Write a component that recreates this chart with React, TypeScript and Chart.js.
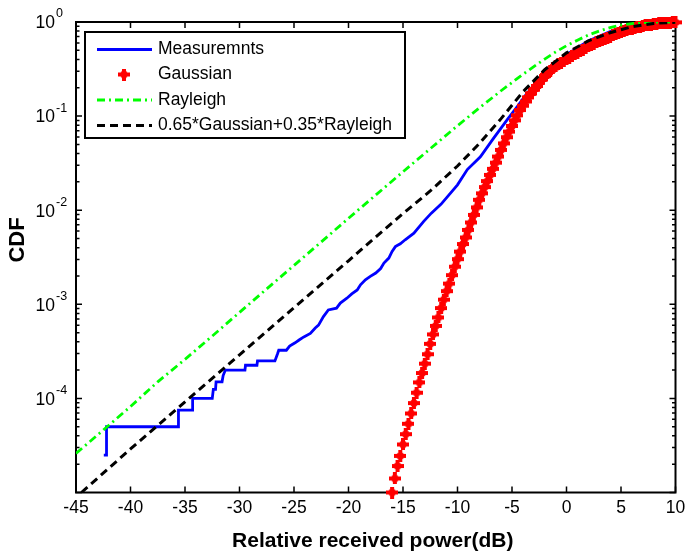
import React, { useEffect, useRef } from 'react';
import { Chart, registerables } from 'chart.js';

Chart.register(...registerables);

// ---------- data ----------
const xTicks = [-45, -40, -35, -30, -25, -20, -15, -10, -5, 0, 5, 10];
const yDecades = [1, 0.1, 0.01, 0.001, 0.0001];
const yExponents = ['0', '-1', '-2', '-3', '-4'];
const legendLabels = ['Measuremnts', 'Gaussian', 'Rayleigh', '0.65*Gaussian+0.35*Rayleigh'];
const xTitle = 'Relative received power(dB)';
const yTitle = 'CDF';

const measX = [-42.45, -42.2, -42.2, -35.6, -35.6, -34.3, -34.3, -32.5, -32.4, -32.2, -32.15, -31.6, -31.5, -31.3, -29.5, -29.45, -28.4, -28.35, -26.75, -26.5, -26.4, -25.7, -25.4, -24.9, -24.5, -24.1, -23.5, -23.05, -22.75, -22.3, -21.85, -21.1, -20.75, -20.15, -19.7, -19.2, -18.9, -18.45, -18.0, -17.5, -17.05, -16.75, -16.3, -16.0, -15.7, -15.25, -14.8, -14.0, -13.1, -12.4, -11.5, -10.0, -9.1, -7.9, -6.7, -5.45, -4.5, -3.6, -2.4, -1.2, 0, 2, 4, 6, 8, 10];
const measY = [2.5e-5, 2.5e-5, 5e-5, 5e-5, 7.5e-5, 7.5e-5, 1e-4, 1e-4, 1.25e-4, 1.25e-4, 1.5e-4, 1.5e-4, 1.75e-4, 2e-4, 2e-4, 2.25e-4, 2.25e-4, 2.5e-4, 2.5e-4, 3.0e-4, 3.25e-4, 3.25e-4, 3.6e-4, 3.9e-4, 4.2e-4, 4.5e-4, 4.9e-4, 5.6e-4, 6.0e-4, 7.4e-4, 8.7e-4, 9.1e-4, 1.03e-3, 1.16e-3, 1.29e-3, 1.42e-3, 1.61e-3, 1.82e-3, 1.98e-3, 2.15e-3, 2.4e-3, 2.74e-3, 3.1e-3, 3.64e-3, 4.1e-3, 4.4e-3, 4.85e-3, 5.7e-3, 7.6e-3, 9.3e-3, 1.16e-2, 1.86e-2, 2.7e-2, 3.7e-2, 5.8e-2, 9.1e-2, 0.127, 0.176, 0.244, 0.337, 0.45, 0.63, 0.79, 0.91, 0.97, 1.0];

const gaussX = [-16, -15.75, -15.5, -15.25, -15, -14.75, -14.5, -14.25, -14, -13.75, -13.5, -13.25, -13, -12.75, -12.5, -12.25, -12, -11.75, -11.5, -11.25, -11, -10.75, -10.5, -10.25, -10, -9.75, -9.5, -9.25, -9, -8.75, -8.5, -8.25, -8, -7.75, -7.5, -7.25, -7, -6.75, -6.5, -6.25, -6, -5.75, -5.5, -5.25, -5, -4.75, -4.5, -4.25, -4, -3.75, -3.5, -3.25, -3, -2.75, -2.5, -2.25, -2, -1.75, -1.5, -1.25, -1, -0.75, -0.5, -0.25, 0, 0.25, 0.5, 0.75, 1, 1.25, 1.5, 1.75, 2, 2.25, 2.5, 2.75, 3, 3.25, 3.5, 3.75, 4, 4.25, 4.5, 4.75, 5, 5.25, 5.5, 5.75, 6, 6.25, 6.5, 6.75, 7, 7.25, 7.5, 7.75, 8, 8.25, 8.5, 8.75, 9, 9.25, 9.5, 9.75, 10];
const gaussY = [1.0e-5, 1.41e-5, 1.91e-5, 2.45e-5, 3.24e-5, 4.17e-5, 5.37e-5, 6.92e-5, 8.91e-5, 1.15e-4, 1.48e-4, 1.86e-4, 2.34e-4, 2.95e-4, 3.8e-4, 4.79e-4, 5.89e-4, 7.24e-4, 9.12e-4, 1.12e-3, 1.38e-3, 1.66e-3, 2.04e-3, 2.51e-3, 3.02e-3, 3.63e-3, 4.37e-3, 5.13e-3, 6.17e-3, 7.41e-3, 8.91e-3, 1.07e-2, 1.29e-2, 1.51e-2, 1.76e-2, 2.04e-2, 2.37e-2, 2.75e-2, 3.2e-2, 3.72e-2, 4.37e-2, 5.13e-2, 5.96e-2, 6.84e-2, 7.85e-2, 9.02e-2, 0.102, 0.116, 0.129, 0.143, 0.158, 0.174, 0.191, 0.209, 0.226, 0.245, 0.266, 0.286, 0.305, 0.322, 0.34, 0.354, 0.369, 0.384, 0.4, 0.417, 0.434, 0.452, 0.47, 0.49, 0.51, 0.53, 0.55, 0.569, 0.588, 0.606, 0.625, 0.644, 0.663, 0.681, 0.7, 0.72, 0.74, 0.76, 0.78, 0.798, 0.815, 0.833, 0.85, 0.865, 0.88, 0.895, 0.91, 0.92, 0.93, 0.94, 0.95, 0.957, 0.964, 0.971, 0.978, 0.982, 0.986, 0.989, 0.992];

const rayX = [-45, -42.5, -40, -37.5, -35, -32.5, -30, -27.5, -25, -22.5, -20, -17.5, -15, -12.5, -10, -8, -6, -4, -2, -1, 0, 1, 2, 3, 4, 5, 6, 7, 8, 9, 10];
const rayY = [2.6e-5, 4.6e-5, 8.2e-5, 1.5e-4, 2.6e-4, 4.6e-4, 8.2e-4, 1.46e-3, 2.59e-3, 4.6e-3, 8.2e-3, 1.45e-2, 2.56e-2, 4.5e-2, 7.9e-2, 0.122, 0.186, 0.278, 0.404, 0.48, 0.56, 0.64, 0.727, 0.8, 0.873, 0.925, 0.962, 0.984, 0.994, 0.998, 1.0];

const mixX = [-44.5, -40, -35, -30, -25, -20, -17.5, -15, -12.5, -10, -8, -6, -4, -2, 0, 2, 4, 6, 8, 10];
const mixY = [1.0e-5, 2.9e-5, 9.2e-5, 2.9e-4, 9.2e-4, 2.9e-3, 5.2e-3, 9.2e-3, 1.6e-2, 2.95e-2, 5.1e-2, 9.4e-2, 0.181, 0.311, 0.47, 0.63, 0.77, 0.89, 0.966, 0.995];

// ---------- styles ----------
const BLUE = '#0000ff';
const RED = '#ff0000';
const GREEN = '#00ff00';
const BLACK = '#000000';
const FONT = '"Liberation Sans", Arial, Helvetica, sans-serif';

function makeMarker(): HTMLCanvasElement {
  const m = document.createElement('canvas');
  m.width = 12;
  m.height = 12;
  const c = m.getContext('2d')!;
  c.fillStyle = RED;
  c.beginPath();
  c.moveTo(6, 0.5);
  c.lineTo(11.5, 6);
  c.lineTo(6, 11.5);
  c.lineTo(0.5, 6);
  c.closePath();
  c.fill();
  c.fillRect(4, 0, 4, 12);
  c.fillRect(0, 4, 12, 4);
  return m;
}

const pts = (xs: number[], ys: number[]) => xs.map((x, i) => ({ x, y: ys[i] }));

export default function App() {
  const ref = useRef<HTMLCanvasElement>(null);

  useEffect(() => {
    if (!ref.current) return;
    const marker = makeMarker();

    const axesPlugin = {
      id: 'matlabAxes',
      beforeDatasetsDraw(chart: any) {
        const { ctx, chartArea: a, scales } = chart;
        const x = scales.x;
        const y = scales.y;
        ctx.save();
        ctx.strokeStyle = BLACK;
        ctx.lineWidth = 1.5;
        xTicks.forEach((v) => {
          const px = x.getPixelForValue(v);
          ctx.beginPath();
          ctx.moveTo(px, a.bottom);
          ctx.lineTo(px, a.bottom - 6);
          ctx.moveTo(px, a.top);
          ctx.lineTo(px, a.top + 6);
          ctx.stroke();
        });
        const decadesAll = [1e-5, 1e-4, 1e-3, 1e-2, 1e-1, 1];
        decadesAll.forEach((d) => {
          const py = y.getPixelForValue(d);
          ctx.beginPath();
          ctx.moveTo(a.left, py);
          ctx.lineTo(a.left + 6, py);
          ctx.moveTo(a.right, py);
          ctx.lineTo(a.right - 6, py);
          ctx.stroke();
          if (d < 1) {
            for (let k = 2; k <= 9; k++) {
              const pm = y.getPixelForValue(d * k);
              ctx.beginPath();
              ctx.moveTo(a.left, pm);
              ctx.lineTo(a.left + 3.5, pm);
              ctx.moveTo(a.right, pm);
              ctx.lineTo(a.right - 3.5, pm);
              ctx.stroke();
            }
          }
        });
        ctx.lineWidth = 2;
        ctx.strokeRect(a.left, a.top, a.right - a.left, a.bottom - a.top);

        ctx.fillStyle = BLACK;
        ctx.font = `17.5px ${FONT}`;
        ctx.textAlign = 'center';
        ctx.textBaseline = 'middle';
        xTicks.forEach((v) => {
          ctx.fillText(String(v), x.getPixelForValue(v), a.bottom + 15.5);
        });
        yDecades.forEach((d, i) => {
          const py = y.getPixelForValue(d);
          ctx.font = `17.5px ${FONT}`;
          ctx.textAlign = 'right';
          ctx.textBaseline = 'middle';
          ctx.fillText('10', 55, py + 1.5);
          ctx.font = `12.5px ${FONT}`;
          ctx.textAlign = 'left';
          ctx.fillText(yExponents[i], 56, py - 8);
        });
        ctx.font = `bold 21px ${FONT}`;
        ctx.textAlign = 'center';
        ctx.textBaseline = 'alphabetic';
        ctx.fillText(xTitle, (a.left + a.right) / 2 - 3, 547);
        ctx.save();
        ctx.font = `bold 22px ${FONT}`;
        ctx.translate(23.5, 240);
        ctx.rotate(-Math.PI / 2);
        ctx.fillText(yTitle, 0, 0);
        ctx.restore();
        ctx.restore();
      },
      afterDatasetsDraw(chart: any) {
        const { ctx } = chart;
        ctx.save();
        ctx.fillStyle = '#ffffff';
        ctx.fillRect(85, 32, 320, 106);
        ctx.strokeStyle = BLACK;
        ctx.lineWidth = 2;
        ctx.strokeRect(85, 32, 320, 106);
        const rows = [49.5, 74.5, 100, 125.5];
        const x0 = 97;
        const x1 = 152;
        ctx.lineWidth = 2.8;
        ctx.strokeStyle = BLUE;
        ctx.setLineDash([]);
        ctx.beginPath();
        ctx.moveTo(x0, rows[0]);
        ctx.lineTo(x1, rows[0]);
        ctx.stroke();
        ctx.drawImage(marker, 124 - 6, rows[1] - 6);
        ctx.strokeStyle = GREEN;
        ctx.lineWidth = 2.8;
        ctx.setLineDash([8, 4, 2, 4]);
        ctx.beginPath();
        ctx.moveTo(x0, rows[2]);
        ctx.lineTo(x1, rows[2]);
        ctx.stroke();
        ctx.strokeStyle = BLACK;
        ctx.lineWidth = 3;
        ctx.setLineDash([8, 5]);
        ctx.beginPath();
        ctx.moveTo(x0, rows[3]);
        ctx.lineTo(x1, rows[3]);
        ctx.stroke();
        ctx.setLineDash([]);
        ctx.fillStyle = BLACK;
        ctx.font = `17.5px ${FONT}`;
        ctx.textAlign = 'left';
        ctx.textBaseline = 'middle';
        legendLabels.forEach((t, i) => ctx.fillText(t, 158, rows[i]));
        ctx.restore();
      },
    };

    const chart = new Chart(ref.current, {
      type: 'line',
      data: {
        datasets: [
          {
            label: legendLabels[3],
            data: pts(mixX, mixY),
            borderColor: BLACK,
            borderWidth: 3,
            borderDash: [8, 5],
            pointRadius: 0,
            tension: 0,
            fill: false,
            order: 0,
          },
          {
            label: legendLabels[2],
            data: pts(rayX, rayY),
            borderColor: GREEN,
            borderWidth: 2.8,
            borderDash: [8, 4, 2, 4],
            pointRadius: 0,
            tension: 0,
            fill: false,
            order: 1,
          },
          {
            label: legendLabels[1],
            data: pts(gaussX, gaussY),
            showLine: false,
            pointStyle: marker,
            pointRadius: 6,
            borderColor: RED,
            backgroundColor: RED,
            clip: false,
            order: 2,
          },
          {
            label: legendLabels[0],
            data: pts(measX, measY),
            borderColor: BLUE,
            borderWidth: 2.8,
            pointRadius: 0,
            tension: 0,
            fill: false,
            order: 3,
          },
        ],
      } as any,
      options: {
        animation: false,
        responsive: false,
        events: [],
        layout: { padding: { left: 76, top: 22, right: 10.5, bottom: 63.5 } },
        plugins: { legend: { display: false }, tooltip: { enabled: false } },
        scales: {
          x: { type: 'linear', min: -45, max: 10, display: false },
          y: { type: 'logarithmic', min: 1e-5, max: 1, display: false },
        },
      } as any,
      plugins: [axesPlugin],
    });
    return () => chart.destroy();
  }, []);

  return (
    <div style={{ position: 'absolute', left: 0, top: 0, width: 686, height: 556, background: '#fff' }}>
      <canvas ref={ref} width={686} height={556} style={{ display: 'block' }} />
    </div>
  );
}
